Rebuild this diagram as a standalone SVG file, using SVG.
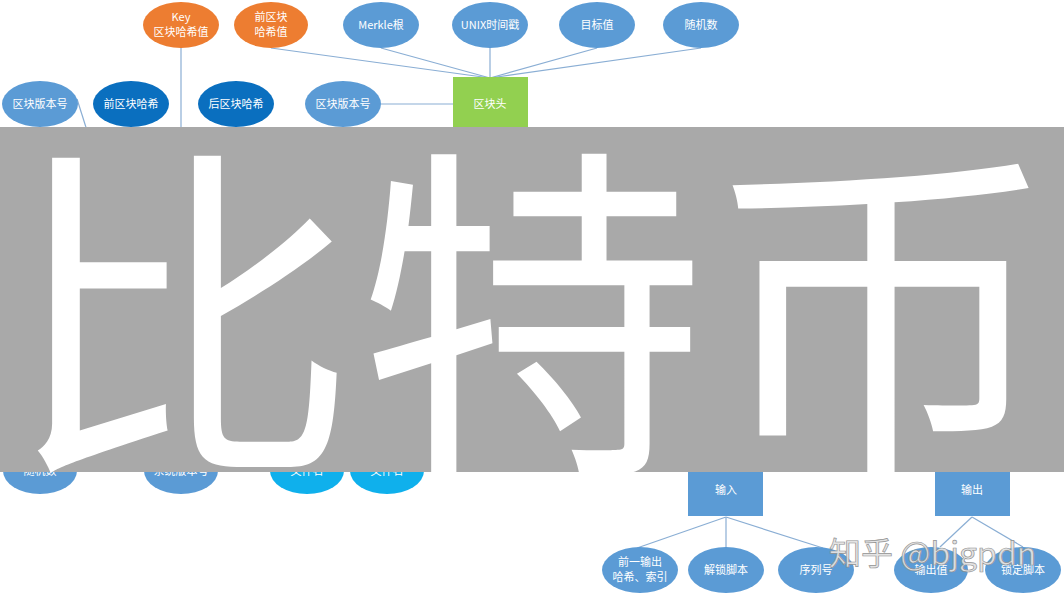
<svg xmlns="http://www.w3.org/2000/svg" width="1064" height="599" viewBox="0 0 1064 599">
<style>
.lbl{font-family:"Noto Sans CJK SC","Liberation Sans",sans-serif;font-size:11px;fill:#ffffff;text-anchor:middle}
.blue{fill:#5B9BD5}
.dark{fill:#0A6FBF}
.orange{fill:#ED7D31}
.cyan{fill:#0FB0EC}
.green{fill:#92D050}
.conn{stroke:#8AAED4;stroke-width:1.2;fill:none}
</style>
<rect width="1064" height="599" fill="#ffffff"/>
<g id="connectors">
<line class="conn" x1="271" y1="48" x2="490" y2="78"/>
<line class="conn" x1="381" y1="48" x2="490" y2="78"/>
<line class="conn" x1="490" y1="48" x2="490" y2="78"/>
<line class="conn" x1="597" y1="48" x2="490" y2="78"/>
<line class="conn" x1="701" y1="48" x2="490" y2="78"/>
<line class="conn" x1="381" y1="104" x2="453" y2="104"/>
<line class="conn" x1="181" y1="48" x2="181" y2="140"/>
<line class="conn" x1="77" y1="99" x2="90" y2="140"/>
<line class="conn" x1="726" y1="517" x2="637" y2="548"/>
<line class="conn" x1="726" y1="517" x2="726" y2="548"/>
<line class="conn" x1="726" y1="517" x2="823" y2="548"/>
<line class="conn" x1="972" y1="517" x2="940" y2="547"/>
<line class="conn" x1="972" y1="517" x2="1023" y2="547"/>
</g>
<g id="key"><ellipse class="orange" cx="181" cy="25" rx="38" ry="23"/><text class="lbl" x="181" y="21">Key</text><text class="lbl" x="181" y="36">区块哈希值</text></g>
<g id="prevhash"><ellipse class="orange" cx="271" cy="25" rx="37" ry="23"/><text class="lbl" x="271" y="21">前区块</text><text class="lbl" x="271" y="36">哈希值</text></g>
<g id="merkle"><ellipse class="blue" cx="381" cy="25" rx="38" ry="23"/><text class="lbl" x="381" y="29">Merkle根</text></g>
<g id="unix"><ellipse class="blue" cx="490" cy="25" rx="38" ry="23"/><text class="lbl" x="490" y="29">UNIX时间戳</text></g>
<g id="target"><ellipse class="blue" cx="597" cy="25" rx="38" ry="23"/><text class="lbl" x="597" y="29">目标值</text></g>
<g id="nonce"><ellipse class="blue" cx="701" cy="25" rx="38" ry="23"/><text class="lbl" x="701" y="29">随机数</text></g>
<g id="header"><rect class="green" x="453" y="77" width="75" height="60"/><text class="lbl" x="490" y="108">区块头</text></g>
<g id="version2"><ellipse class="blue" cx="343" cy="104" rx="38" ry="23"/><text class="lbl" x="343" y="108">区块版本号</text></g>
<g id="version1"><ellipse class="blue" cx="40" cy="104" rx="38" ry="23"/><text class="lbl" x="40" y="108">区块版本号</text></g>
<g id="prevblock"><ellipse class="dark" cx="131" cy="104" rx="38" ry="23"/><text class="lbl" x="131" y="108">前区块哈希</text></g>
<g id="nextblock"><ellipse class="dark" cx="236" cy="104" rx="38" ry="23"/><text class="lbl" x="236" y="108">后区块哈希</text></g>
<g id="nonce2"><ellipse class="blue" cx="40" cy="471" rx="37" ry="23"/><text class="lbl" x="40" y="475">随机数</text></g>
<g id="sysversion"><ellipse class="blue" cx="181" cy="471" rx="37" ry="23"/><text class="lbl" x="181" y="475">系统版本号</text></g>
<g id="file1"><ellipse class="cyan" cx="307" cy="471" rx="37" ry="23"/><text class="lbl" x="307" y="475">文件名</text></g>
<g id="file2"><ellipse class="cyan" cx="387" cy="471" rx="37" ry="23"/><text class="lbl" x="387" y="475">文件名</text></g>
<g id="input"><rect class="blue" x="688" y="465" width="75" height="51"/><text class="lbl" x="726" y="494">输入</text></g>
<g id="output"><rect class="blue" x="935" y="465" width="75" height="51"/><text class="lbl" x="972" y="494">输出</text></g>
<g id="prevout"><ellipse class="blue" cx="640" cy="570" rx="38" ry="23"/><text class="lbl" x="640" y="566">前一输出</text><text class="lbl" x="640" y="581">哈希、索引</text></g>
<g id="unlock"><ellipse class="blue" cx="726" cy="570" rx="38" ry="23"/><text class="lbl" x="726" y="574">解锁脚本</text></g>
<g id="sequence"><ellipse class="blue" cx="816" cy="570" rx="38" ry="23"/><text class="lbl" x="816" y="574">序列号</text></g>
<g id="value"><ellipse class="blue" cx="931" cy="570" rx="37" ry="23"/><text class="lbl" x="931" y="574">输出值</text></g>
<g id="lock"><ellipse class="blue" cx="1023" cy="570" rx="38" ry="23"/><text class="lbl" x="1023" y="574">锁定脚本</text></g>
<rect x="0" y="127" width="1064" height="345" fill="#A9A9A9"/>
<text x="532" y="448" font-family="Noto Sans CJK SC, sans-serif" font-size="350" fill="#ffffff" text-anchor="middle">比特币</text>
<text x="829" y="565" font-family="Noto Sans CJK SC, Liberation Sans, sans-serif" font-size="32" fill="#e2e2e2" stroke="#8f8f8f" stroke-width="0.7" opacity="0.95">知乎 @bjgpdn</text>
</svg>
